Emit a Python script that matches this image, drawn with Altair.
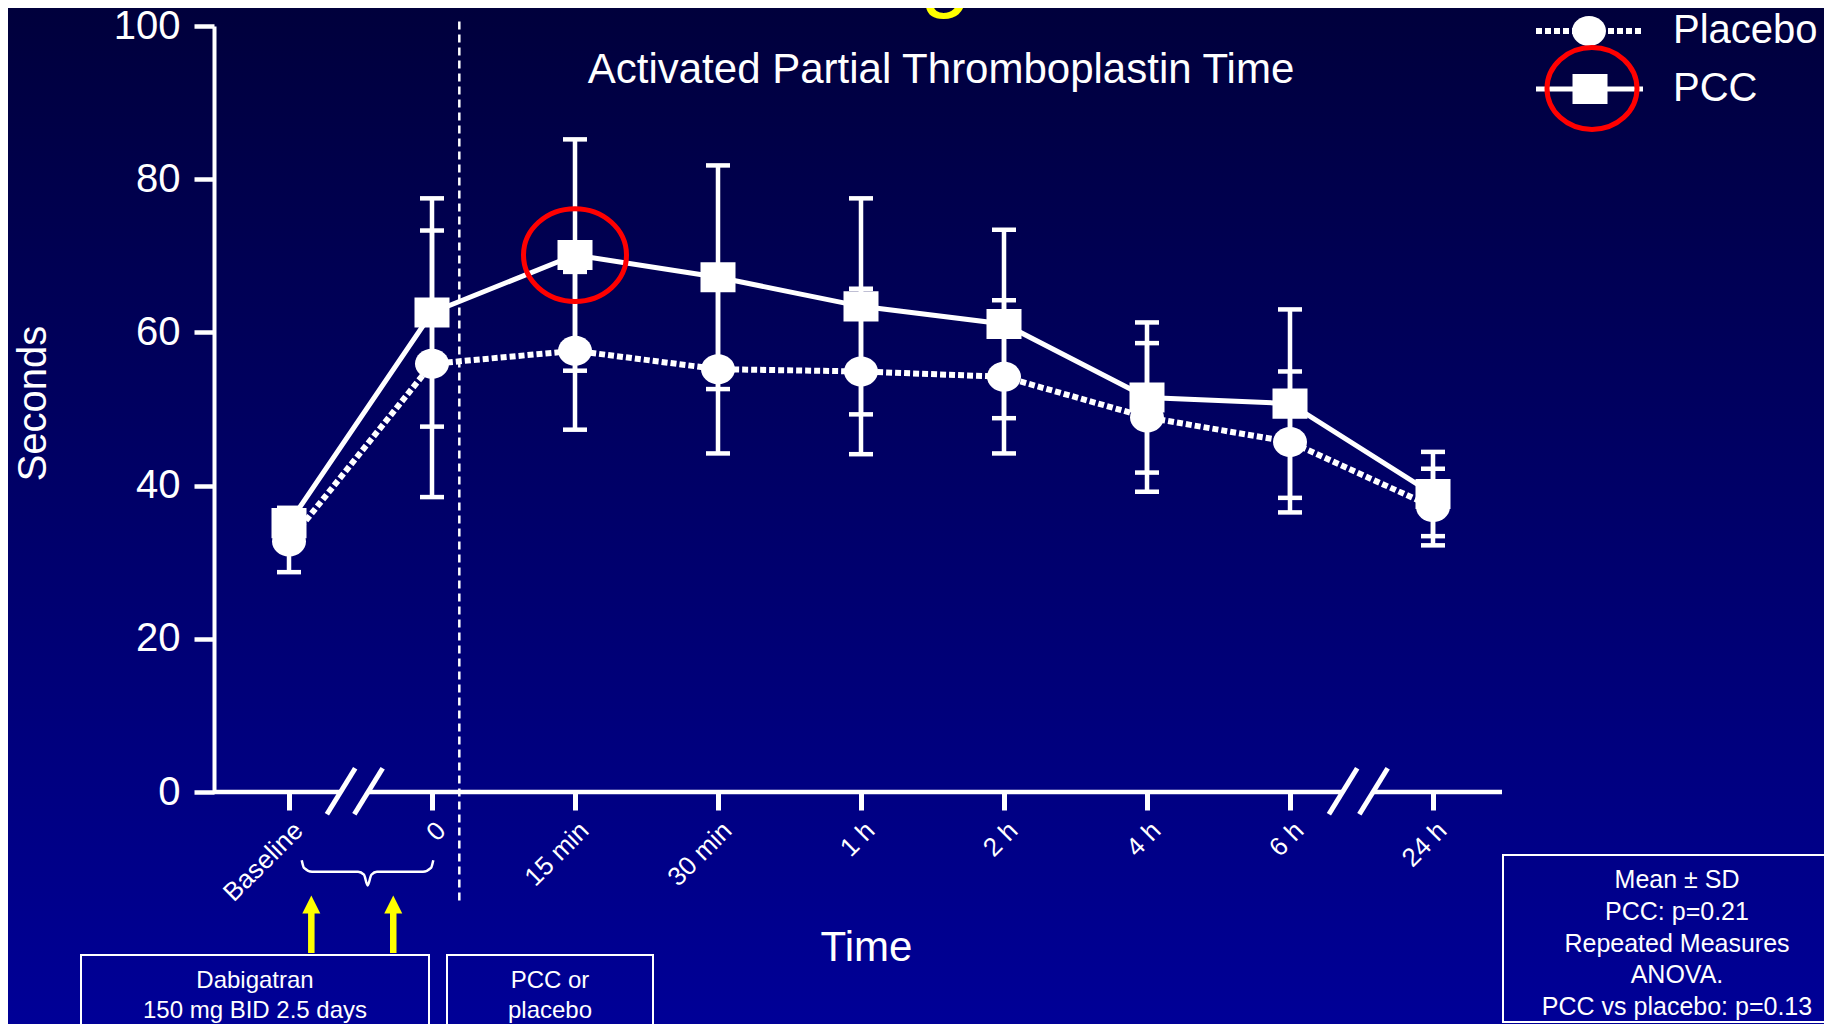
import json
import altair as alt
import pandas as pd

# ---------------- data ----------------
times = ["Baseline", "0", "15 min", "30 min", "1 h", "2 h", "4 h", "6 h", "24 h"]
pcc_mean = [35.1, 62.6, 70.1, 67.2, 63.4, 61.1, 51.5, 50.7, 38.9]
pcc_sd = [2.0, 14.9, 15.1, 14.6, 14.1, 12.3, 9.8, 12.3, 5.5]
placebo_mean = [32.7, 55.9, 57.6, 55.2, 54.9, 54.2, 48.9, 45.7, 37.2]
placebo_sd = [4.0, 17.4, 10.3, 11.0, 10.8, 10.0, 9.7, 9.2, 5.0]
y_ticks = [0, 20, 40, 60, 80, 100]
highlight_index = 2  # 15 min PCC point circled in red

# annotation positions in data units (time index / seconds)
break_pairs = [(0.364, 0.556), (7.371, 7.584)]   # "//" axis breaks
dosing_arrows = [0.156, 0.729]                   # yellow arrows (time index)
treatment_line = 1.191                           # dashed line: PCC or placebo given
brace_x = [0.089, 0.105, 0.161, 0.483, 0.524, 0.550, 0.576, 0.615, 0.937, 0.993, 1.009]
brace_v = [-8.9, -9.9, -10.4, -10.4, -10.8, -12.2, -10.8, -10.4, -10.4, -9.9, -8.9]

FONT = "Liberation Sans"
WHITE = "#FFFFFF"
YELLOW = "#FFFF00"
RED = "#FF0000"
X_MIN, X_MAX = -0.5245, 8.4825
W, H = 1288, 766

xs = alt.Scale(domain=[X_MIN, X_MAX], nice=False, zero=False)
ys = alt.Scale(domain=[0, 100], nice=False)

label_expr = json.dumps(times) + "[round(datum.value)]"
xaxis = alt.Axis(
    values=list(range(len(times))), labelExpr=label_expr, domain=False, grid=False,
    ticks=True, tickSize=18, tickWidth=5, tickColor=WHITE,
    labelColor=WHITE, labelFont=FONT, labelFontSize=26, labelAngle=315,
    labelAlign="right", labelBaseline="top", labelPadding=7,
    labelOverlap=False, labelFlush=False, labelBound=False,
    title="Time", titleColor=WHITE, titleFont=FONT, titleFontSize=42,
    titleFontWeight="normal", titleX=652, titleY=168, titleAlign="center",
    titleBaseline="alphabetic", titleAngle=0, zindex=1,
)
yaxis = alt.Axis(
    values=y_ticks, domain=True, domainColor=WHITE, domainWidth=4, grid=False,
    ticks=True, tickSize=20, tickWidth=4.5, tickColor=WHITE,
    labelColor=WHITE, labelFont=FONT, labelFontSize=40, labelPadding=14,
    labelFlush=False, labelOverlap=False,
    title="Seconds", titleColor=WHITE, titleFont=FONT, titleFontSize=40,
    titleFontWeight="normal", titleX=-181, titleY=377, titleAngle=270,
    titleAlign="center", titleBaseline="middle", zindex=1,
)


def X(field="idx"):
    return alt.X(f"{field}:Q", scale=xs, axis=xaxis)


def Y(field="v"):
    return alt.Y(f"{field}:Q", scale=ys, axis=yaxis)


n = len(times)
idx = list(range(n))
pcc_df = pd.DataFrame({"idx": idx, "time": times, "v": pcc_mean, "sd": pcc_sd})
plc_df = pd.DataFrame({"idx": idx, "time": times, "v": placebo_mean, "sd": placebo_sd})
both = pd.concat([pcc_df.assign(series="PCC"), plc_df.assign(series="Placebo")], ignore_index=True)
err_df = pd.DataFrame({"idx": both["idx"], "v": both["v"] - both["sd"], "v2": both["v"] + both["sd"]})
cap_df = pd.DataFrame({
    "idx": list(both["idx"]) * 2,
    "v": list(both["v"] - both["sd"]) + list(both["v"] + both["sd"]),
})
hl_df = pcc_df.iloc[[highlight_index]]

# axis line split by the breaks
seg_start = [X_MIN] + [b[1] for b in break_pairs]
seg_end = [b[0] for b in break_pairs] + [X_MAX]
seg_df = pd.DataFrame({"idx": seg_start, "idx2": seg_end, "v": [0] * len(seg_start)})
slash_centres = [c for pair in break_pairs for c in pair]
slash_df = pd.DataFrame({
    "idx": [c - 0.099 for c in slash_centres],
    "idx2": [c + 0.099 for c in slash_centres],
    "v": [-2.9] * len(slash_centres),
    "v2": [3.1] * len(slash_centres),
})
vline_df = pd.DataFrame({"idx": [treatment_line], "v": [100.6], "v2": [-14.3]})
brace_df = pd.DataFrame({"idx": brace_x, "v": brace_v, "o": list(range(len(brace_x)))})
arrow_df = pd.DataFrame({"idx": dosing_arrows})
one = pd.DataFrame({"a": [0]})

SQUARE = "M-1,-0.86L1,-0.86L1,0.86L-1,0.86Z"
ELLIPSE = "M-1,0A1,0.88,0,1,0,1,0A1,0.88,0,1,0,-1,0Z"
RING = "M-1,0A1,0.9,0,1,0,1,0A1,0.9,0,1,0,-1,0Z"
CAP = "M-1,0L1,0"
TRI = "M0,-1L1,1L-1,1Z"

gradient = {
    "gradient": "linear", "x1": 0, "x2": 0, "y1": 0, "y2": 1,
    "stops": [{"offset": 0, "color": "#00003A"}, {"offset": 1, "color": "#000098"}],
}

layers = []
# background gradient
layers.append(alt.Chart(one).mark_rect(fill=gradient, strokeWidth=0).encode(
    x=alt.value(-230), x2=alt.value(1630), y=alt.value(-40), y2=alt.value(1010)))
# yellow fragment of slide title (cut off at top)
layers.append(alt.Chart(one).mark_text(text="g", font=FONT, fontSize=90, fontStyle="italic",
                                       color=YELLOW, align="center", baseline="alphabetic").encode(
    x=alt.value(737), y=alt.value(-26)))
# dashed vertical line
layers.append(alt.Chart(vline_df).mark_rule(color=WHITE, strokeWidth=2.5, strokeDash=[8, 5]).encode(
    x=X(), y=Y(), y2="v2"))
# x axis line segments and break slashes
layers.append(alt.Chart(seg_df).mark_rule(color=WHITE, strokeWidth=4.5).encode(x=X(), x2="idx2", y=Y()))
layers.append(alt.Chart(slash_df).mark_rule(color=WHITE, strokeWidth=5).encode(
    x=X(), x2="idx2", y=Y(), y2="v2"))
# brace
layers.append(alt.Chart(brace_df).mark_line(color=WHITE, strokeWidth=2.5, interpolate="monotone").encode(
    x=X(), y=Y(), order="o:Q"))
# yellow arrows
layers.append(alt.Chart(arrow_df).mark_rule(color=YELLOW, strokeWidth=6.5).encode(
    x=X(), y=alt.value(887), y2=alt.value(927)))
layers.append(alt.Chart(arrow_df).mark_point(shape=TRI, filled=True, color=YELLOW, size=324,
                                             opacity=1, strokeWidth=0).encode(
    x=X(), y=alt.value(878.5)))
# boxes
for (x1, x2, y1, y2) in [(-133, 215, 929, 1010), (233, 439, 929, 1010), (1289, 1625, 829, 996)]:
    layers.append(alt.Chart(one).mark_rect(fillOpacity=0, stroke=WHITE, strokeWidth=2).encode(
        x=alt.value(x1), x2=alt.value(x2), y=alt.value(y1), y2=alt.value(y2)))
layers.append(alt.Chart(one).mark_text(
    text="Dabigatran\n150 mg BID 2.5 days", lineBreak="\n", lineHeight=30, font=FONT, fontSize=24,
    color=WHITE, align="center", baseline="alphabetic").encode(x=alt.value(41), y=alt.value(962)))
layers.append(alt.Chart(one).mark_text(
    text="PCC or\nplacebo", lineBreak="\n", lineHeight=30, font=FONT, fontSize=24,
    color=WHITE, align="center", baseline="alphabetic").encode(x=alt.value(336), y=alt.value(962)))
layers.append(alt.Chart(one).mark_text(
    text="Mean ± SD\nPCC: p=0.21\nRepeated Measures\nANOVA.\nPCC vs placebo: p=0.13",
    lineBreak="\n", lineHeight=31.8, font=FONT, fontSize=25, color=WHITE,
    align="center", baseline="alphabetic").encode(x=alt.value(1463), y=alt.value(862)))
# title
layers.append(alt.Chart(one).mark_text(
    text="Activated Partial Thromboplastin Time", font=FONT, fontSize=42, color=WHITE,
    align="center", baseline="alphabetic").encode(x=alt.value(727), y=alt.value(57)))

# series lines
layers.append(alt.Chart(plc_df).mark_line(color=WHITE, strokeWidth=6, strokeDash=[6, 3],
                                          strokeCap="butt").encode(x=X(), y=Y()))
layers.append(alt.Chart(pcc_df).mark_line(color=WHITE, strokeWidth=5).encode(x=X(), y=Y()))
# error bars
layers.append(alt.Chart(err_df).mark_rule(color=WHITE, strokeWidth=4.5).encode(x=X(), y=Y(), y2="v2"))
layers.append(alt.Chart(cap_df).mark_point(shape=CAP, filled=False, color=WHITE, size=24 ** 2,
                                           strokeWidth=4.5, opacity=1).encode(x=X(), y=Y()))
# markers
layers.append(alt.Chart(pcc_df).mark_point(shape=SQUARE, filled=True, color=WHITE, size=35 ** 2,
                                           opacity=1, strokeWidth=0).encode(x=X(), y=Y()))
layers.append(alt.Chart(plc_df).mark_point(shape=ELLIPSE, filled=True, color=WHITE, size=34 ** 2,
                                           opacity=1, strokeWidth=0).encode(x=X(), y=Y()))
# red highlight ring
layers.append(alt.Chart(hl_df).mark_point(shape=RING, filled=False, color=RED, size=103 ** 2,
                                          strokeWidth=5, opacity=1).encode(x=X(), y=Y()))

# legend (drawn by hand)
layers.append(alt.Chart(one).mark_rule(color=WHITE, strokeWidth=6, strokeDash=[6, 3]).encode(
    x=alt.value(1322), x2=alt.value(1429), y=alt.value(5)))
layers.append(alt.Chart(one).mark_point(shape=ELLIPSE, filled=True, color=WHITE, size=34 ** 2,
                                        opacity=1, strokeWidth=0).encode(x=alt.value(1375), y=alt.value(5)))
layers.append(alt.Chart(one).mark_rule(color=WHITE, strokeWidth=5).encode(
    x=alt.value(1322), x2=alt.value(1429), y=alt.value(63)))
layers.append(alt.Chart(one).mark_point(shape=SQUARE, filled=True, color=WHITE, size=35 ** 2,
                                        opacity=1, strokeWidth=0).encode(x=alt.value(1376), y=alt.value(63)))
layers.append(alt.Chart(one).mark_point(shape="M-1,0A1,0.91,0,1,0,1,0A1,0.91,0,1,0,-1,0Z",
                                        filled=False, color=RED, size=90 ** 2, strokeWidth=5,
                                        opacity=1).encode(x=alt.value(1378), y=alt.value(62.5)))
for label, yy in [("Placebo", 5), ("PCC", 63)]:
    layers.append(alt.Chart(one).mark_text(text=label, font=FONT, fontSize=40, color=WHITE,
                                           align="left", baseline="middle").encode(
        x=alt.value(1459), y=alt.value(yy)))

chart = alt.layer(*layers).properties(
    width=W, height=H,
    padding={"left": 206, "top": 18, "right": 322, "bottom": 232},
    autosize=alt.AutoSizeParams(type="none"),
    background="#000060",
).configure_view(strokeWidth=0)

chart.save("out.html", embed_options={"renderer": "svg", "actions": False})
